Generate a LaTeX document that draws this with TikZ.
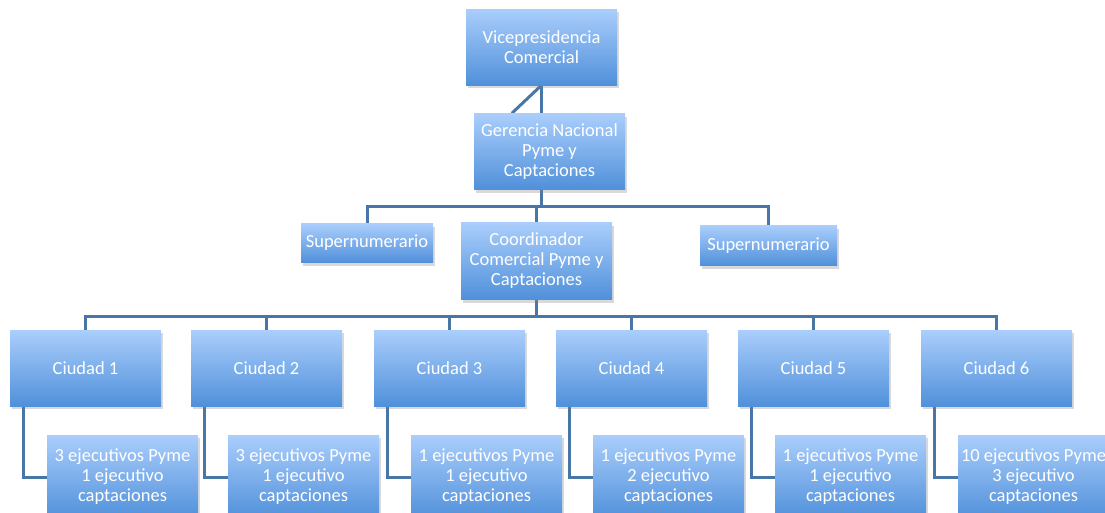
\documentclass[tikz,border=0pt]{standalone}
\usepackage{fontspec}
\setmainfont{Carlito}
\usetikzlibrary{shadows,backgrounds}
\definecolor{boxtop}{RGB}{170,206,252}
\definecolor{boxbot}{RGB}{80,144,218}
\definecolor{linkcol}{RGB}{72,118,166}
\def \boxw {151pt}
\def \boxh {76pt}
\def \hook {14pt}
\tikzstyle{unit}=[rectangle, top color=boxtop, bottom color=boxbot, text=white, align=center, minimum width=\boxw, minimum height=\boxh, inner sep=2pt, font=\fontsize{18.5}{20}\selectfont, drop shadow={shadow xshift=2pt, shadow yshift=-3pt, opacity=0.3}]
\tikzstyle{link}=[draw=linkcol, line width=3pt]

\begin{document}
\begin{tikzpicture}[x=1pt, y=-1pt]
\path[use as bounding box, clip] (0,0) rectangle (1105,512);

\node[unit] (V) at (541.5,47) {Vicepresidencia\\Comercial};
\node[unit] (G) at (549.5,151.5) {Gerencia Nacional\\Pyme y\\Captaciones};
\node[unit, minimum width=132pt, minimum height=39pt] (S1) at (367,243) {Supernumerario};
\node[unit, minimum height=77pt] (Co) at (536.5,261) {Coordinador\\Comercial Pyme y\\Captaciones};
\node[unit, minimum width=137pt, minimum height=40pt] (S2) at (768.5,245.5) {Supernumerario};

% ciudades y ejecutivos
\foreach \i/\x/\np/\nc in {1/85.5/3/1, 2/266.5/3/1, 3/449.5/1/1, 4/631.5/1/2, 5/813.5/1/1, 6/996.5/10/3} {
    \node[unit] (C\i) at (\x,368) {Ciudad \i};
    \node[unit, minimum height=84pt] (E\i) at (\x+37,477) {\np{} ejecutivos Pyme\\\nc{} ejecutivo\\captaciones};
}

\begin{scope}[on background layer]
\coordinate (gbar) at (541.5,206);
\coordinate (cbar) at (536.5,316);
\draw[link] (V.south) -- (gbar);
\draw[link] (V.south) -- ([xshift=38pt]G.north west);
\foreach \n in {S1, Co, S2}
    \draw[link] (\n.north) |- (gbar);
\draw[link] (Co.south) -- (cbar);
\foreach \i in {1, ..., 6} {
    \draw[link] (C\i.north) |- (cbar);
    \draw[link] ([xshift=\hook]C\i.south west) |- (E\i.west);
}
\end{scope}

\end{tikzpicture}
\end{document}
